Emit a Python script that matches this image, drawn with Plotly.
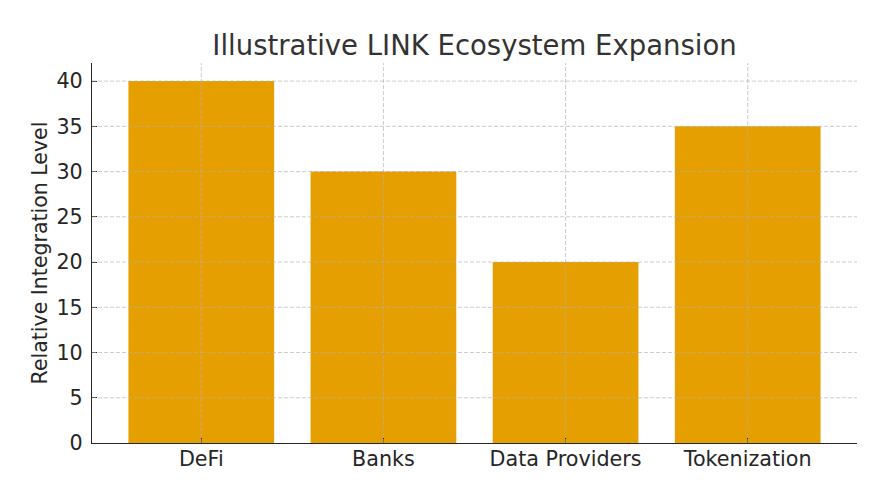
import plotly.graph_objects as go

categories = ["DeFi", "Banks", "Data Providers", "Tokenization"]
values = [40, 30, 20, 35]
y_ticks = [0, 5, 10, 15, 20, 25, 30, 35, 40]

BAR_COLOR = "#E69F00"
TEXT_COLOR = "#262626"
GRID_COLOR = "rgba(176,176,176,0.65)"
GRID_DASH = "4px,2px"

fig = go.Figure(go.Bar(x=categories, y=values, width=0.8,
                       marker=dict(color=BAR_COLOR, line=dict(width=0))))

axis_common = dict(
    showgrid=False,
    showline=True, linecolor=TEXT_COLOR, linewidth=1.3,
    ticks="inside", ticklen=5, tickcolor=TEXT_COLOR, tickwidth=1.3,
    tickfont=dict(family="DejaVu Sans", size=20.7, color=TEXT_COLOR),
    layer="above traces", zeroline=False,
)

# grid lines drawn above the bars (as in the reference)
shapes = []
for t in y_ticks[1:]:
    shapes.append(dict(type="line", xref="paper", yref="y", x0=0, x1=1, y0=t, y1=t,
                       line=dict(color=GRID_COLOR, width=1, dash=GRID_DASH), layer="above"))
for c in categories:
    shapes.append(dict(type="line", xref="x", yref="paper", x0=c, x1=c, y0=0, y1=1,
                       line=dict(color=GRID_COLOR, width=1, dash=GRID_DASH), layer="above"))

fig.update_layout(
    width=888, height=502,
    margin=dict(l=92, r=31, t=63, b=59),
    plot_bgcolor="white", paper_bgcolor="white",
    title=dict(text="Illustrative LINK Ecosystem Expansion", xref="paper", x=0.5, xanchor="center",
               y=1 - 45/502, yanchor="middle",
               font=dict(family="DejaVu Sans", size=27.5, color="#333333")),
    xaxis=dict(range=[-0.6, 3.6], ticklabelstandoff=-3, **axis_common),
    yaxis=dict(range=[0, 42], tickvals=y_ticks, ticklabelstandoff=4,
               title=dict(text="Relative Integration Level",
                          font=dict(family="DejaVu Sans", size=20.5, color=TEXT_COLOR), standoff=3),
               **axis_common),
    shapes=shapes,
    showlegend=False,
)

fig.write_html("out.html", config={"displayModeBar": False},
               post_script="document.body.style.margin='0px';document.body.style.overflow='hidden';")
